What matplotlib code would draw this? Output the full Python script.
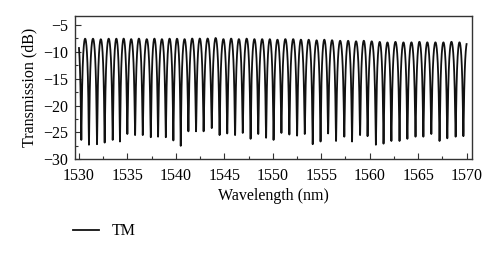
import numpy as np
import matplotlib
matplotlib.use("Agg")
import matplotlib.pyplot as plt
from matplotlib.ticker import MultipleLocator

# Resonance dip wavelengths (nm)
dip_wavelengths = [
    1530.24, 1531.03, 1531.86, 1532.65, 1533.48, 1534.23, 1534.99, 1535.79, 1536.58, 1537.41,
    1538.16, 1538.96, 1539.74, 1540.50, 1541.29, 1542.08, 1542.86, 1543.70, 1544.51, 1545.30,
    1546.11, 1546.90, 1547.71, 1548.50, 1549.31, 1550.08, 1550.89, 1551.71, 1552.51, 1553.30,
    1554.12, 1554.93, 1555.71, 1556.53, 1557.38, 1558.18, 1559.01, 1559.78, 1560.64, 1561.43,
    1562.24, 1563.08, 1563.89, 1564.73, 1565.54, 1566.36, 1567.21, 1568.01, 1568.87, 1569.67,
]
# Dip minimum transmission (dB)
dip_depths = [
    -26.4, -27.3, -27.2, -26.9, -26.4, -26.7, -25.3, -25.5, -25.5, -25.9,
    -25.8, -25.9, -26.5, -27.5, -24.8, -24.8, -24.8, -24.2, -25.5, -25.2,
    -25.5, -25.1, -26.2, -25.3, -26.0, -26.4, -25.1, -25.4, -25.6, -25.3,
    -27.2, -26.7, -25.2, -26.6, -25.8, -26.7, -25.5, -25.7, -27.3, -27.1,
    -26.6, -26.6, -26.2, -25.8, -25.8, -25.3, -26.6, -26.1, -25.8, -25.7,
]
# Peak transmission (dB) between successive dips
peak_levels = [
    -7.6, -7.6, -7.7, -7.6, -7.6, -7.6, -7.7, -7.6, -7.7, -7.6,
    -7.7, -7.6, -7.6, -7.7, -7.6, -7.6, -7.6, -7.5, -7.7, -7.6,
    -7.7, -7.6, -7.7, -7.7, -7.7, -7.8, -7.7, -7.7, -7.8, -7.8,
    -7.9, -7.8, -7.9, -8.0, -8.0, -8.1, -8.0, -8.1, -8.2, -8.3,
    -8.2, -8.3, -8.3, -8.2, -8.3, -8.3, -8.3, -8.2, -8.3,
]
# Curve end points (nm, dB)
start_point = (1530.0, -9.0)
end_point = (1570.0, -8.7)

# Build the trace: cos^2 interferometric line shape between read dips/peaks
lam_parts, t_parts = [], []
lam0, t0 = start_point
seg = np.linspace(lam0, dip_wavelengths[0], 20)
fsr0 = dip_wavelengths[1] - dip_wavelengths[0]
phi = np.pi * (seg - dip_wavelengths[0]) / fsr0
p_lin = 10 ** (peak_levels[0] / 10)
d_lin = 10 ** (dip_depths[0] / 10)
lam_parts.append(seg)
t_parts.append(p_lin * np.sin(phi) ** 2 + d_lin)
for i in range(len(dip_wavelengths) - 1):
    a, b = dip_wavelengths[i], dip_wavelengths[i + 1]
    seg = np.linspace(a, b, 120)
    phi = np.pi * (seg - a) / (b - a)
    w = (seg - a) / (b - a)
    d_lin = (1 - w) * 10 ** (dip_depths[i] / 10) + w * 10 ** (dip_depths[i + 1] / 10)
    p_lin = 10 ** (peak_levels[i] / 10)
    lam_parts.append(seg)
    t_parts.append(p_lin * np.sin(phi) ** 2 + d_lin)
seg = np.linspace(dip_wavelengths[-1], end_point[0], 20)
fsr1 = dip_wavelengths[-1] - dip_wavelengths[-2]
phi = np.pi * (seg - dip_wavelengths[-1]) / fsr1
p_lin = 10 ** (peak_levels[-1] / 10)
d_lin = 10 ** (dip_depths[-1] / 10)
lam_parts.append(seg)
t_parts.append(p_lin * np.sin(phi) ** 2 + d_lin)

wavelength = np.concatenate(lam_parts)
transmission = 10 * np.log10(np.concatenate(t_parts))

plt.rcParams['font.family'] = ['Liberation Serif', 'DejaVu Serif']
plt.rcParams['axes.unicode_minus'] = True

fig = plt.figure(figsize=(5.0, 2.56), dpi=100)
ax = fig.add_axes([0.1506, 0.378, 0.7934, 0.5595])
line, = ax.plot(wavelength, transmission, color='#111111', lw=1.3, label='TM')

ax.set_xlim(1529.62, 1570.56)
ax.set_ylim(-30, -3.32)
ax.xaxis.set_major_locator(MultipleLocator(5))
ax.xaxis.set_minor_locator(MultipleLocator(2.5))
ax.yaxis.set_major_locator(MultipleLocator(5))
ax.yaxis.set_minor_locator(MultipleLocator(2.5))
ax.tick_params(which='both', direction='in', top=False, right=False,
               labelsize=11.5, color='#333333')
ax.tick_params(which='major', length=4, width=0.8)
ax.tick_params(which='minor', length=2.5, width=0.8)
ax.tick_params(axis='x', pad=6)
ax.tick_params(axis='y', pad=5)
for s in ax.spines.values():
    s.set_color('#333333')
    s.set_linewidth(1.0)

ax.set_xlabel('Wavelength (nm)', fontsize=11.5, labelpad=3)
ax.set_ylabel('Transmission (dB)', fontsize=11.5, labelpad=4)

fig.legend(handles=[line], loc='center left', bbox_to_anchor=(0.118, 0.097),
           frameon=False, fontsize=11.5, handlelength=1.6, handletextpad=0.8)

fig.savefig('out.png', dpi=100)
